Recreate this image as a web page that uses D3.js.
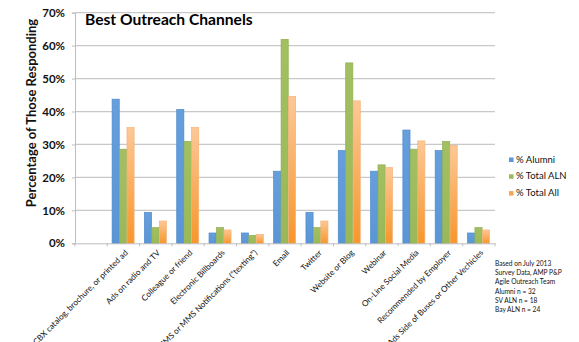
<!DOCTYPE html>
<html>
<head>
<meta charset="utf-8">
<script src="https://cdn.jsdelivr.net/npm/d3@7"></script>
<style>
  html, body { margin: 0; padding: 0; background: #fff; }
  svg { display: block; }
  text { font-family: Lato, "Open Sans", sans-serif; }
</style>
</head>
<body>
<svg id="chart" width="579" height="342"></svg>
<script>
// Survey categories (first slot is left blank on the axis)
const categories = [
  "",
  "CBX catalog, brochure, or printed ad",
  "Ads on radio and TV",
  "Colleague or friend",
  "Electronic Billboards",
  "SMS or MMS Notifications (\u201ctexting\u201d)",
  "Email",
  "Twitter",
  "Website or Blog",
  "Webinar",
  "On-Line Social Media",
  "Recommended by Employer",
  "Ads Side of Buses or Other Vechicles"
];
const seriesNames = ["% Alumni", "% Total ALN", "% Total All"];
const alumni   = [null, 43.75, 9.38, 40.63, 3.13, 3.13, 21.88, 9.38, 28.13, 21.88, 34.38, 28.13, 3.13];
const totalALN = [null, 28.57, 4.76, 30.95, 4.76, 2.38, 61.90, 4.76, 54.76, 23.81, 28.57, 30.95, 4.76];
const totalAll = [null, 35.14, 6.76, 35.14, 4.05, 2.70, 44.59, 6.76, 43.24, 22.97, 31.08, 29.73, 4.05];
const yTicks = [0, 10, 20, 30, 40, 50, 60, 70];
const noteLines = [
  "Based on July 2013",
  "Survey Data, AMP P&P",
  "Agile Outreach Team",
  "Alumni n = 32",
  "SV ALN n = 18",
  "Bay ALN n = 24"
];

const svg = d3.select("#chart");
const plot = { left: 75, right: 495, top: 12.7, bottom: 243.3 };

const x = d3.scaleBand().domain(d3.range(categories.length)).range([plot.left, plot.right]).padding(0);
const inner = d3.scaleBand().domain(d3.range(3)).range([4.8, x.bandwidth() - 5.2]).padding(0);
const y = d3.scaleLinear().domain([0, 70]).range([plot.bottom, plot.top]);

// Gradients for the bar fills
const defs = svg.append("defs");
const grads = [
  { id: "gBlue", top: "#659fdc", bottom: "#5a95d6" },
  { id: "gGreen", top: "#a2c062", bottom: "#99b958" },
  { id: "gOrange", top: "#fdc896", bottom: "#f7962c" }
];
grads.forEach(g => {
  const lg = defs.append("linearGradient").attr("id", g.id)
    .attr("x1", 0).attr("y1", 0).attr("x2", 0).attr("y2", 1);
  lg.append("stop").attr("offset", "0%").attr("stop-color", g.top);
  lg.append("stop").attr("offset", "100%").attr("stop-color", g.bottom);
});
const fills = ["url(#gBlue)", "url(#gGreen)", "url(#gOrange)"];
const strokes = ["#4d88cc", "#8fae4e", "#f2b37a"];
const legendColors = ["#5b97d8", "#9bbb59", "#f9a550"];

// Horizontal gridlines
svg.append("g").selectAll("line").data(yTicks.filter(t => t > 0)).join("line")
  .attr("x1", plot.left).attr("x2", plot.right)
  .attr("y1", d => y(d)).attr("y2", d => y(d))
  .attr("stroke", "#c8c8c8").attr("stroke-width", 1.2);

// Y axis
const yAxis = d3.axisLeft(y).tickValues(yTicks).tickFormat(d => d + "%").tickSize(3).tickPadding(7);
const yg = svg.append("g").attr("transform", `translate(${plot.left},0)`).call(yAxis);
yg.select(".domain").attr("stroke", "#bdbdbd");
yg.selectAll(".tick line").attr("stroke", "#bdbdbd");
yg.selectAll(".tick text").attr("font-size", 11.5).attr("font-weight", "bold").attr("fill", "#111")
  .attr("font-family", "Lato, sans-serif");

// Bars
const series = [alumni, totalALN, totalAll];
series.forEach((vals, s) => {
  svg.append("g").selectAll("rect")
    .data(vals.map((v, i) => ({ v, i })).filter(d => d.v != null))
    .join("rect")
    .attr("x", d => x(d.i) + inner(s))
    .attr("width", inner.bandwidth() - 0.3)
    .attr("y", d => y(d.v))
    .attr("height", d => y(0) - y(d.v))
    .attr("fill", fills[s])
    .attr("stroke", strokes[s]).attr("stroke-width", 0.7);
});

// X axis
const xAxis = d3.axisBottom(x).tickFormat("").tickSize(0);
const xg = svg.append("g").attr("transform", `translate(0,${plot.bottom})`).call(xAxis);
xg.select(".domain").attr("stroke", "#bdbdbd");
// tick marks on category boundaries
svg.append("g").selectAll("line").data(d3.range(categories.length + 1)).join("line")
  .attr("x1", d => plot.left + d * x.step()).attr("x2", d => plot.left + d * x.step())
  .attr("y1", plot.bottom).attr("y2", plot.bottom + 3)
  .attr("stroke", "#bdbdbd");

// Rotated category labels
svg.append("g").selectAll("text").data(categories.map((c, i) => ({ c, i })).filter(d => d.c))
  .join("text")
  .attr("transform", d => `translate(${x(d.i) + x.bandwidth() / 2 + 5},${plot.bottom + 10}) rotate(-45)`)
  .attr("text-anchor", "end")
  .attr("font-size", 8.2)
  .attr("fill", "#111")
  .text(d => d.c);

// Title
svg.append("text").attr("x", 85).attr("y", 24.5)
  .attr("font-size", 15.6).attr("font-weight", "bold").attr("fill", "#000")
  .text("Best Outreach Channels");

// Y axis title
svg.append("text")
  .attr("transform", `translate(36,113) rotate(-90)`)
  .attr("text-anchor", "middle")
  .attr("font-size", 13).attr("font-weight", "bold").attr("fill", "#111")
  .text("Percentage of Those Responding");

// Legend
const lg = svg.append("g").attr("transform", "translate(509,161)");
seriesNames.forEach((n, i) => {
  lg.append("rect").attr("x", 0).attr("y", i * 16.8 - 3.5).attr("width", 4.5).attr("height", 4.5)
    .attr("fill", legendColors[i]);
  lg.append("text").attr("x", 7).attr("y", i * 16.8 + 1.5)
    .attr("font-size", 9.5).attr("fill", "#111").text(n);
});

// Source note
svg.append("g").selectAll("text").data(noteLines).join("text")
  .attr("x", 495).attr("y", (d, i) => 265.5 + i * 9.35)
  .attr("font-size", 6.6).attr("fill", "#111")
  .text(d => d);
</script>
</body>
</html>
